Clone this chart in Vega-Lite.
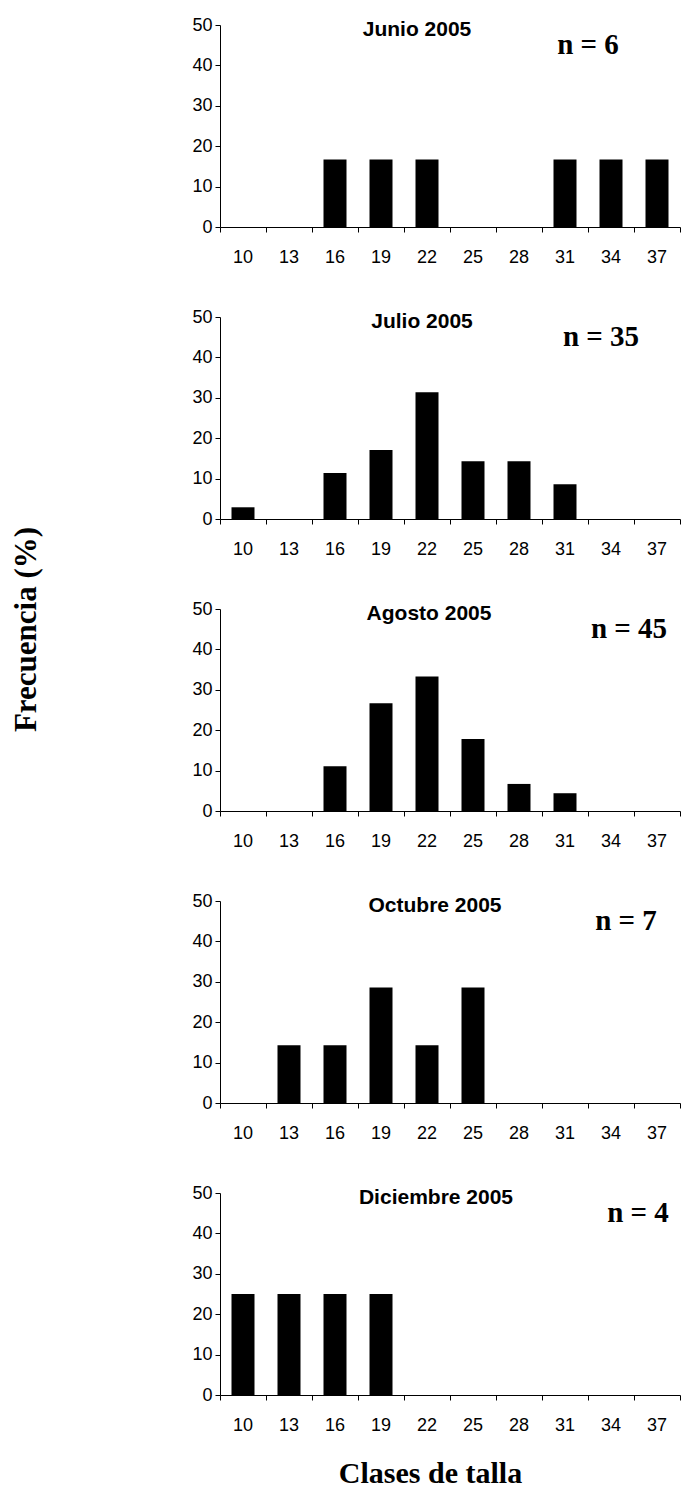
{
  "$schema": "https://vega.github.io/schema/vega-lite/v6.json",
  "background": "white",
  "padding": {"left": 10, "top": 16, "right": 0, "bottom": 0},
  "bounds": "flush",
  "spacing": 90,
  "datasets": {
    "frecuencias": [
      {"mes": "Junio 2005", "clase": 16, "pct": 16.7},
      {"mes": "Junio 2005", "clase": 19, "pct": 16.7},
      {"mes": "Junio 2005", "clase": 22, "pct": 16.7},
      {"mes": "Junio 2005", "clase": 31, "pct": 16.7},
      {"mes": "Junio 2005", "clase": 34, "pct": 16.7},
      {"mes": "Junio 2005", "clase": 37, "pct": 16.7},
      {"mes": "Julio 2005", "clase": 10, "pct": 2.9},
      {"mes": "Julio 2005", "clase": 16, "pct": 11.4},
      {"mes": "Julio 2005", "clase": 19, "pct": 17.1},
      {"mes": "Julio 2005", "clase": 22, "pct": 31.4},
      {"mes": "Julio 2005", "clase": 25, "pct": 14.3},
      {"mes": "Julio 2005", "clase": 28, "pct": 14.3},
      {"mes": "Julio 2005", "clase": 31, "pct": 8.6},
      {"mes": "Agosto 2005", "clase": 16, "pct": 11.1},
      {"mes": "Agosto 2005", "clase": 19, "pct": 26.7},
      {"mes": "Agosto 2005", "clase": 22, "pct": 33.3},
      {"mes": "Agosto 2005", "clase": 25, "pct": 17.8},
      {"mes": "Agosto 2005", "clase": 28, "pct": 6.7},
      {"mes": "Agosto 2005", "clase": 31, "pct": 4.4},
      {"mes": "Octubre 2005", "clase": 13, "pct": 14.3},
      {"mes": "Octubre 2005", "clase": 16, "pct": 14.3},
      {"mes": "Octubre 2005", "clase": 19, "pct": 28.6},
      {"mes": "Octubre 2005", "clase": 22, "pct": 14.3},
      {"mes": "Octubre 2005", "clase": 25, "pct": 28.6},
      {"mes": "Diciembre 2005", "clase": 10, "pct": 25},
      {"mes": "Diciembre 2005", "clase": 13, "pct": 25},
      {"mes": "Diciembre 2005", "clase": 16, "pct": 25},
      {"mes": "Diciembre 2005", "clase": 19, "pct": 25}
    ],
    "muestras": [
      {"mes": "Junio 2005", "n": 6, "etiqueta": "n = 6"},
      {"mes": "Julio 2005", "n": 35, "etiqueta": "n = 35"},
      {"mes": "Agosto 2005", "n": 45, "etiqueta": "n = 45"},
      {"mes": "Octubre 2005", "n": 7, "etiqueta": "n = 7"},
      {"mes": "Diciembre 2005", "n": 4, "etiqueta": "n = 4"}
    ]
  },
  "config": {
    "view": {"stroke": null},
    "axis": {
      "grid": false,
      "domainColor": "black",
      "tickColor": "black",
      "labelColor": "black",
      "titleColor": "black",
      "labelFont": "Liberation Sans",
      "labelFontSize": 18,
      "tickSize": 5
    },
    "title": {
      "font": "Liberation Sans",
      "fontSize": 21,
      "fontWeight": "bold",
      "color": "black",
      "anchor": "middle",
      "baseline": "middle",
      "offset": -24
    },
    "text": {"font": "Liberation Serif", "fontWeight": "bold", "fontSize": 29, "color": "black"}
  },
  "vconcat": [
    {
      "width": 460, "height": 202,
      "title": {"text": "Junio 2005", "dx": -33},
      "layer": [
        {
          "data": {"name": "frecuencias"},
          "transform": [{"filter": "datum.mes === 'Junio 2005'"}],
          "mark": {"type": "bar", "color": "black", "width": {"band": 0.5}},
          "encoding": {
            "x": {"field": "clase", "type": "ordinal", "scale": {"domain": [10, 13, 16, 19, 22, 25, 28, 31, 34, 37], "paddingInner": 0, "paddingOuter": 0},
              "axis": {"title": null, "labelAngle": 0, "bandPosition": 1, "tickExtra": true, "labelOffset": 0, "labelPadding": 16}},
            "y": {"field": "pct", "type": "quantitative", "scale": {"domain": [0, 50]},
              "axis": {"title": null, "values": [0, 10, 20, 30, 40, 50], "labelPadding": 3}}
          }
        },
        {
          "data": {"name": "muestras"},
          "transform": [{"filter": "datum.mes === 'Junio 2005'"}],
          "mark": {"type": "text", "dx": -23},
          "encoding": {
            "x": {"datum": 34, "type": "ordinal"},
            "y": {"datum": 45, "type": "quantitative"},
            "text": {"field": "etiqueta"}
          }
        }
      ]
    },
    {
      "width": 460, "height": 202,
      "title": {"text": "Julio 2005", "dx": -28},
      "layer": [
        {
          "data": {"name": "frecuencias"},
          "transform": [{"filter": "datum.mes === 'Julio 2005'"}],
          "mark": {"type": "bar", "color": "black", "width": {"band": 0.5}},
          "encoding": {
            "x": {"field": "clase", "type": "ordinal", "scale": {"domain": [10, 13, 16, 19, 22, 25, 28, 31, 34, 37], "paddingInner": 0, "paddingOuter": 0},
              "axis": {"title": null, "labelAngle": 0, "bandPosition": 1, "tickExtra": true, "labelOffset": 0, "labelPadding": 16}},
            "y": {"field": "pct", "type": "quantitative", "scale": {"domain": [0, 50]},
              "axis": {"title": "Frecuencia (%)", "values": [0, 10, 20, 30, 40, 50], "labelPadding": 3,
                "titleFont": "Liberation Serif", "titleFontSize": 31, "titleFontWeight": "bold", "titlePadding": 149, "titleY": 312}}
          }
        },
        {
          "data": {"name": "muestras"},
          "transform": [{"filter": "datum.mes === 'Julio 2005'"}],
          "mark": {"type": "text", "dx": -10},
          "encoding": {
            "x": {"datum": 34, "type": "ordinal"},
            "y": {"datum": 45, "type": "quantitative"},
            "text": {"field": "etiqueta"}
          }
        }
      ]
    },
    {
      "width": 460, "height": 202,
      "title": {"text": "Agosto 2005", "dx": -21},
      "layer": [
        {
          "data": {"name": "frecuencias"},
          "transform": [{"filter": "datum.mes === 'Agosto 2005'"}],
          "mark": {"type": "bar", "color": "black", "width": {"band": 0.5}},
          "encoding": {
            "x": {"field": "clase", "type": "ordinal", "scale": {"domain": [10, 13, 16, 19, 22, 25, 28, 31, 34, 37], "paddingInner": 0, "paddingOuter": 0},
              "axis": {"title": null, "labelAngle": 0, "bandPosition": 1, "tickExtra": true, "labelOffset": 0, "labelPadding": 16}},
            "y": {"field": "pct", "type": "quantitative", "scale": {"domain": [0, 50]},
              "axis": {"title": null, "values": [0, 10, 20, 30, 40, 50], "labelPadding": 3}}
          }
        },
        {
          "data": {"name": "muestras"},
          "transform": [{"filter": "datum.mes === 'Agosto 2005'"}],
          "mark": {"type": "text", "dx": 18},
          "encoding": {
            "x": {"datum": 34, "type": "ordinal"},
            "y": {"datum": 45, "type": "quantitative"},
            "text": {"field": "etiqueta"}
          }
        }
      ]
    },
    {
      "width": 460, "height": 202,
      "title": {"text": "Octubre 2005", "dx": -15},
      "layer": [
        {
          "data": {"name": "frecuencias"},
          "transform": [{"filter": "datum.mes === 'Octubre 2005'"}],
          "mark": {"type": "bar", "color": "black", "width": {"band": 0.5}},
          "encoding": {
            "x": {"field": "clase", "type": "ordinal", "scale": {"domain": [10, 13, 16, 19, 22, 25, 28, 31, 34, 37], "paddingInner": 0, "paddingOuter": 0},
              "axis": {"title": null, "labelAngle": 0, "bandPosition": 1, "tickExtra": true, "labelOffset": 0, "labelPadding": 16}},
            "y": {"field": "pct", "type": "quantitative", "scale": {"domain": [0, 50]},
              "axis": {"title": null, "values": [0, 10, 20, 30, 40, 50], "labelPadding": 3}}
          }
        },
        {
          "data": {"name": "muestras"},
          "transform": [{"filter": "datum.mes === 'Octubre 2005'"}],
          "mark": {"type": "text", "dx": 15},
          "encoding": {
            "x": {"datum": 34, "type": "ordinal"},
            "y": {"datum": 45, "type": "quantitative"},
            "text": {"field": "etiqueta"}
          }
        }
      ]
    },
    {
      "width": 460, "height": 202,
      "title": {"text": "Diciembre 2005", "dx": -14},
      "layer": [
        {
          "data": {"name": "frecuencias"},
          "transform": [{"filter": "datum.mes === 'Diciembre 2005'"}],
          "mark": {"type": "bar", "color": "black", "width": {"band": 0.5}},
          "encoding": {
            "x": {"field": "clase", "type": "ordinal", "scale": {"domain": [10, 13, 16, 19, 22, 25, 28, 31, 34, 37], "paddingInner": 0, "paddingOuter": 0},
              "axis": {"title": "Clases de talla", "labelAngle": 0, "bandPosition": 1, "tickExtra": true, "labelOffset": 0, "labelPadding": 16,
                "titleFont": "Liberation Serif", "titleFontSize": 30, "titleFontWeight": "bold", "titlePadding": 24, "titleX": 210}},
            "y": {"field": "pct", "type": "quantitative", "scale": {"domain": [0, 50]},
              "axis": {"title": null, "values": [0, 10, 20, 30, 40, 50], "labelPadding": 3}}
          }
        },
        {
          "data": {"name": "muestras"},
          "transform": [{"filter": "datum.mes === 'Diciembre 2005'"}],
          "mark": {"type": "text", "dx": 27},
          "encoding": {
            "x": {"datum": 34, "type": "ordinal"},
            "y": {"datum": 45, "type": "quantitative"},
            "text": {"field": "etiqueta"}
          }
        }
      ]
    }
  ]
}
